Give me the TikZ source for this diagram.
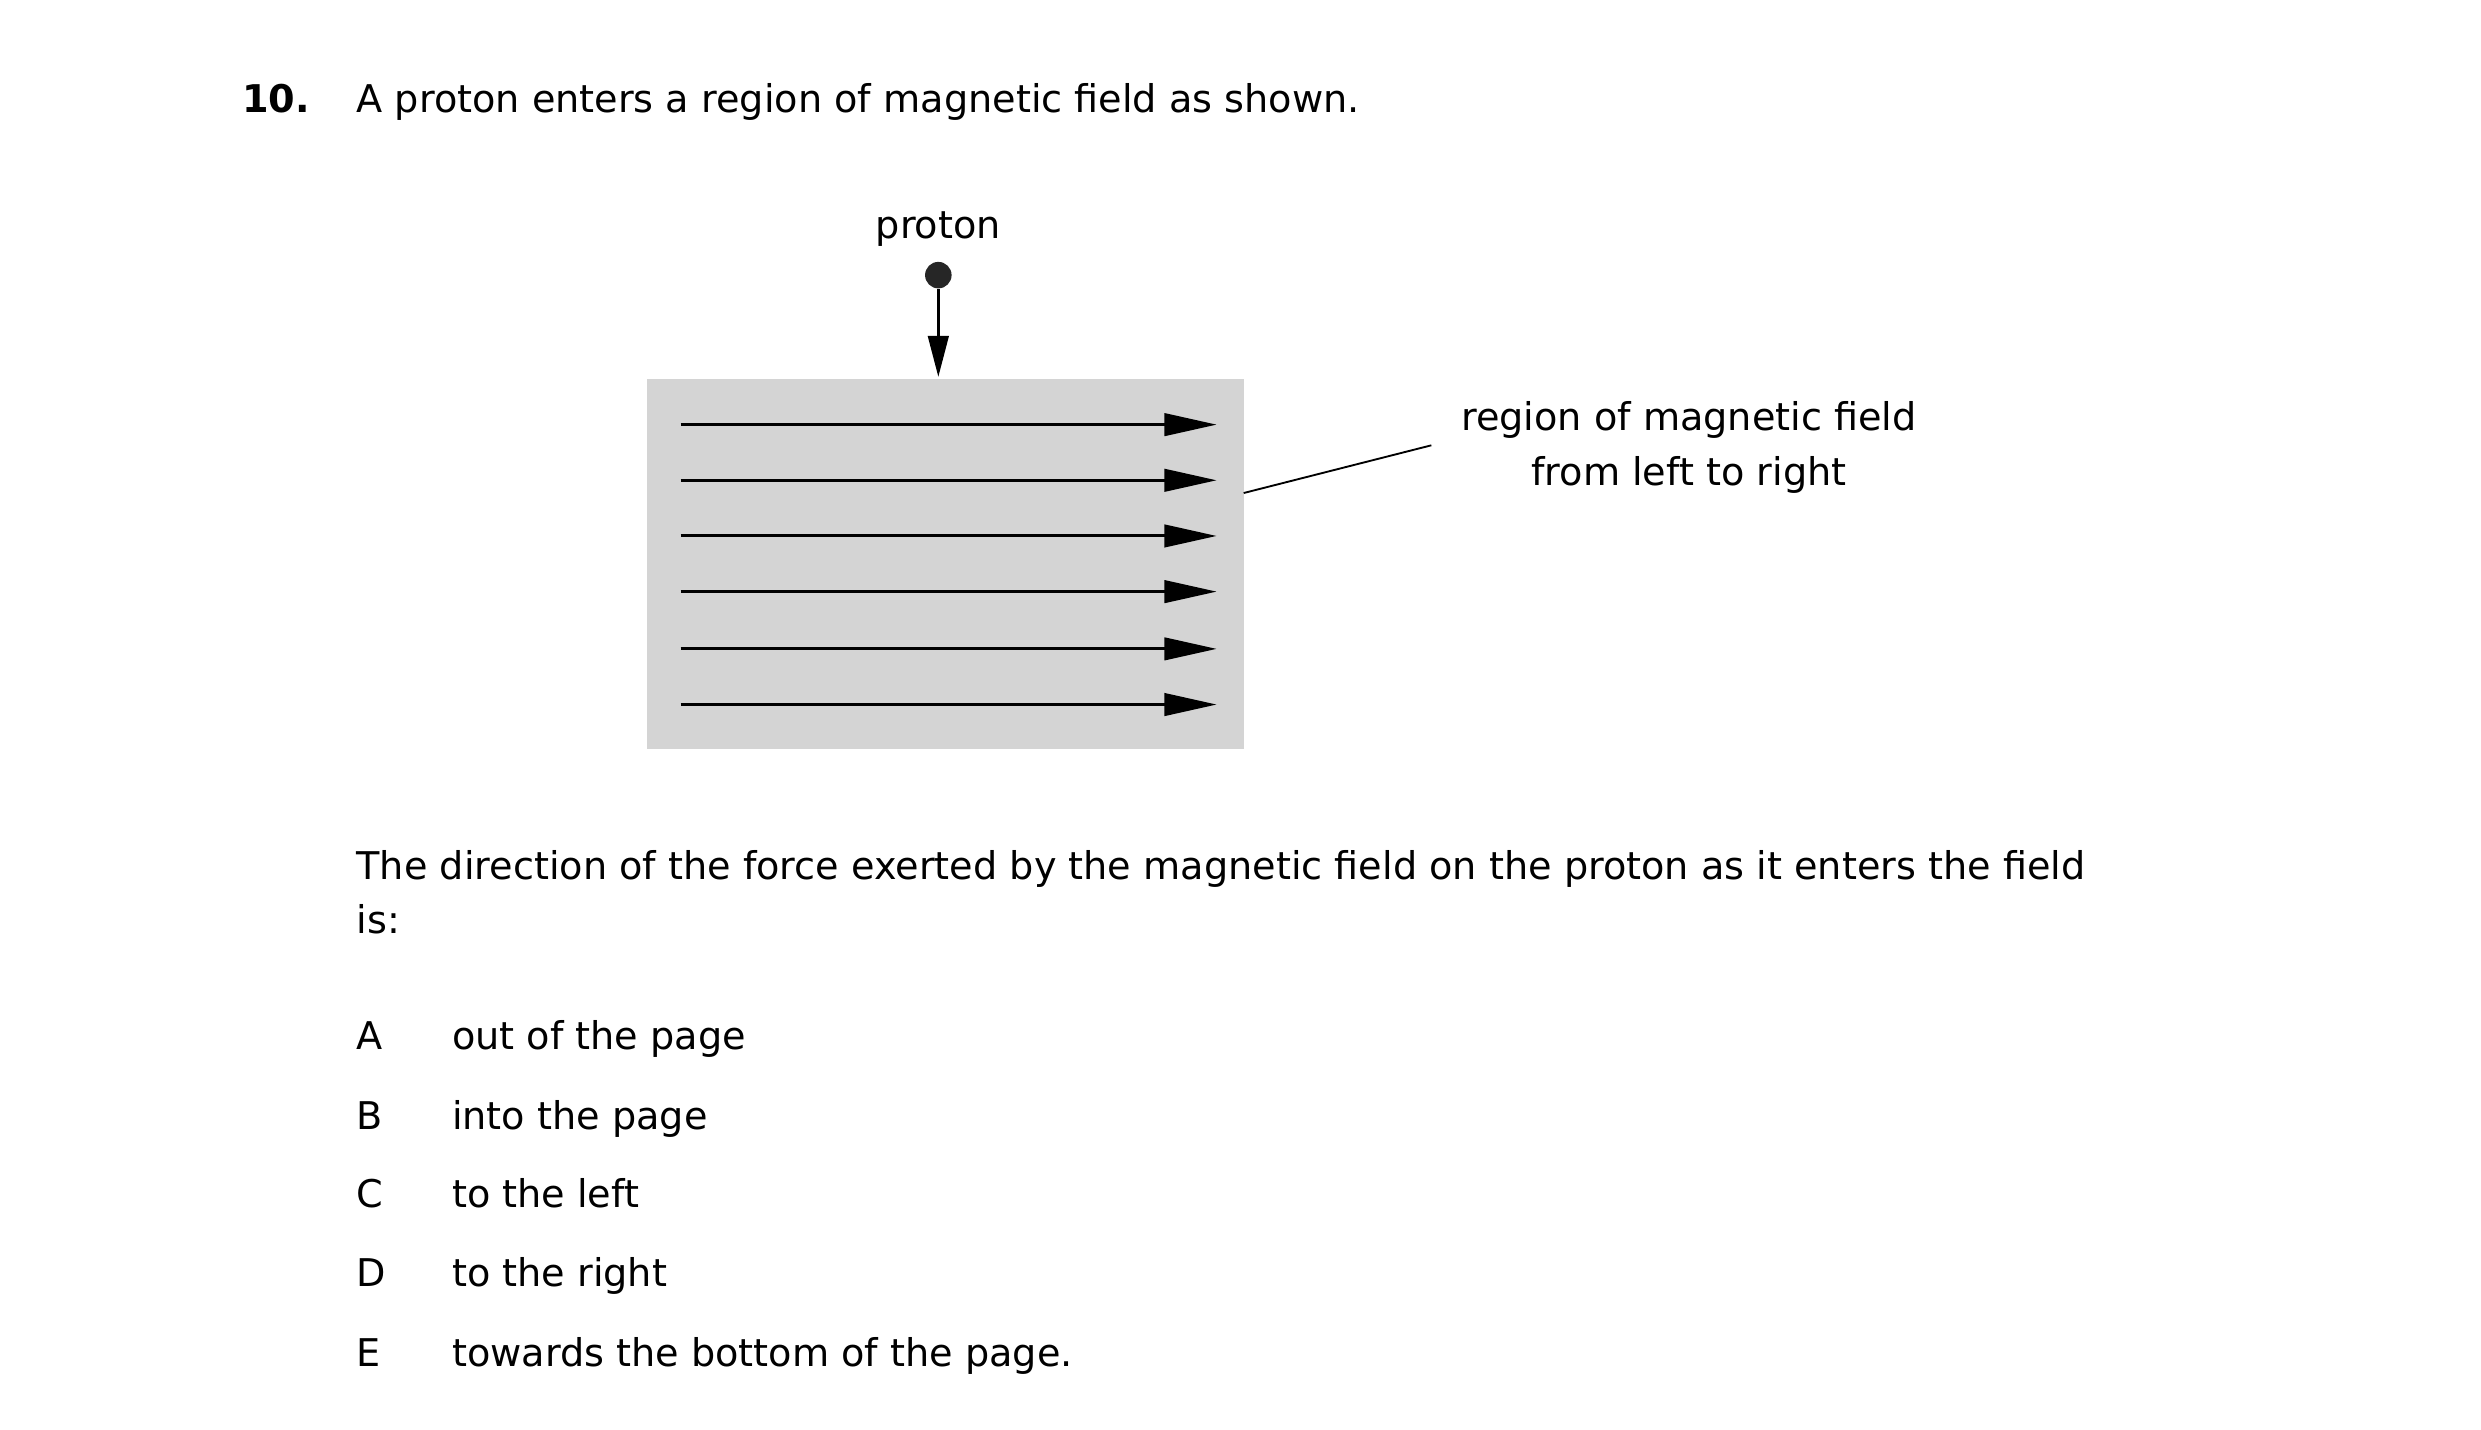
\documentclass[tikz,border=0pt]{standalone}
\usepackage{fontspec}
\setmainfont{DejaVu Sans}
\usetikzlibrary{arrows.meta}
\begin{document}
\begin{tikzpicture}[x=0.03cm,y=-0.03cm,
  txt/.style={anchor=base west,inner sep=0,font=\fontsize{20.5}{25}\selectfont},
  fieldline/.style={line width=1.6pt,-{Triangle[length=28pt,width=12pt]}}]
\useasboundingbox (0,0) rectangle (1560,898.6);
\node[txt,font=\fontsize{20.5}{25}\selectfont\bfseries] (num) at (152,71) {10.};
\node[txt] (q) at (224,71) {A proton enters a region of magnetic field as shown.};
\fill[black!17] (407,238) rectangle (782,471);
\coordinate (rr) at (782,310);
\foreach \y [count=\i] in {267,302,337,372,408,443}{
  \coordinate (s\i) at (428,\y); \coordinate (e\i) at (765,\y);
  \draw[fieldline] (s\i) -- (e\i);}
\node[txt,anchor=base] (pl) at (590,150) {proton};
\node[circle,fill=black!85,inner sep=0,minimum size=0.5cm] (dot) at (590,173) {};
\coordinate (tip) at (590,237);
\draw[line width=1.6pt,-{Triangle[length=22pt,width=11pt]}] (dot.south) -- (tip);
\node[txt,anchor=base] (lab) at (1062,271) {region of magnetic field};
\node[txt,anchor=base] (lab2) at (1062,305) {from left to right};
\coordinate (lw) at (900,280);
\draw[line width=1pt] (rr) -- (lw);
\node[txt] (p1) at (224,553) {The direction of the force exerted by the magnetic field on the proton as it enters the field};
\node[txt] (p2) at (224,587) {is:};
\foreach \l/\t/\y in {A/out of the page/660,B/into the page/710,C/to the left/759,D/to the right/809,E/towards the bottom of the page./859}{
  \node[txt] at (224,\y) {\l};
  \node[txt] at (284,\y) {\t};}
\end{tikzpicture}
\end{document}
